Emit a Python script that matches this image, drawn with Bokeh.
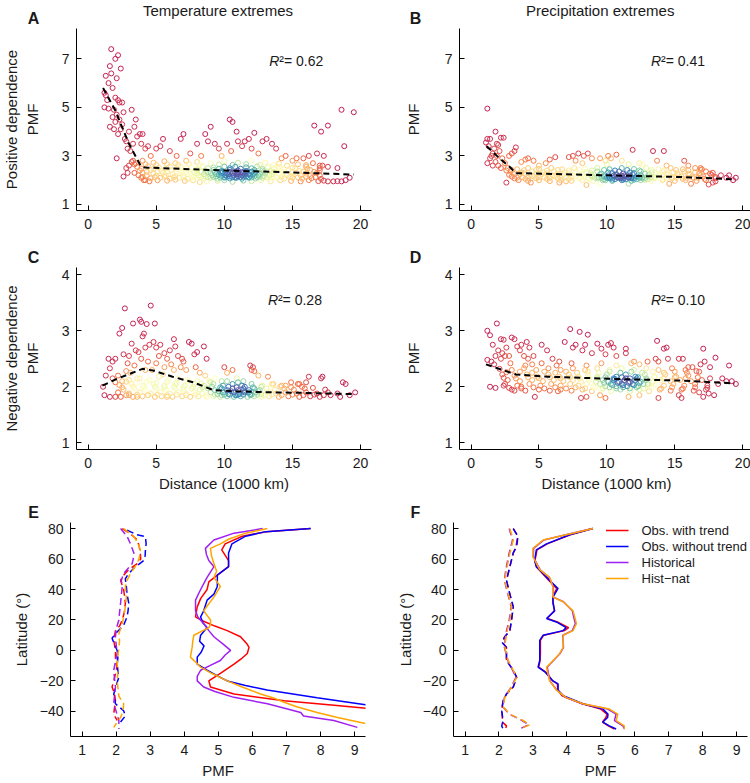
import numpy as np
from bokeh.plotting import figure
from bokeh.layouts import column, row
from bokeh.models import Range1d, Label, Legend, LegendItem, ColumnDataSource, Title
from bokeh.embed import file_html
from bokeh.resources import INLINE

FONT = "Liberation Sans"

# ---------------- Panel A: temperature, positive dependence ----------------
A_out = [(1.3,5.5),(1.2,5.6),(1.4,5.3),(1.3,6.3),(1.5,6.0),(1.7,7.4),(1.6,6.7),(1.7,6.4),(1.8,5.8),(2.0,7.0),
         (2.2,7.15),(2.1,6.2),(2.4,6.6),(2.0,5.4),(2.2,5.3),(1.2,5.0),(1.5,4.95),(1.9,4.9),(2.3,5.2),(2.5,5.2),
         (2.6,4.8),(2.1,4.7),(1.8,4.6),(1.6,4.2),(2.0,4.4),(2.3,4.5),(2.5,4.3),(1.9,4.1),(2.2,3.9),(2.4,4.1),
         (2.1,2.9),(2.6,2.15),(3.2,4.9),(3.0,4.0),(3.3,3.5),(3.5,4.5),(3.4,4.2),(2.8,3.6),(2.9,3.3),(3.1,3.2),
         (2.7,3.7),(3.6,3.8),(3.8,3.9),(4.0,3.9),(3.9,3.5),(3.3,2.8),(3.0,2.6),(2.8,2.5),(3.5,2.7),(4.2,3.3),
         (4.4,3.4),(4.6,3.0),(5.0,3.3),(5.3,3.4),(5.5,3.7),(6.0,3.2),(6.5,3.0),(6.8,3.7),(7.0,3.9),(7.5,3.1),
         (8.0,3.5),(8.3,3.0),(8.6,3.9),(8.8,3.6),(9.0,4.2),(9.3,3.5),(9.6,3.3),(9.8,3.0),(10.2,3.5),(10.4,4.5),
         (10.6,4.4),(10.9,4.0),(10.5,3.2),(11.0,3.6),(11.3,3.4),(11.5,3.6),(11.8,3.7),(12.2,3.95),(12.0,3.3),(12.5,3.1),
         (12.8,3.6),(13.1,3.7),(13.5,3.5),(13.8,3.3),(14.2,2.9),(14.5,3.0),(15.0,2.8),(15.3,2.9),(15.8,2.9),(16.2,3.0),
         (16.6,4.25),(16.8,3.1),(17.1,4.0),(17.3,3.0),(17.6,4.25),(17.0,2.6),(18.6,4.9),(18.8,3.4),(19.5,4.8),(19.2,2.1),
         (18.9,2.0),(18.0,1.95),(3.4,2.3),(3.7,2.2),(4.1,2.0),(2.9,2.3)]
A_band = [(4.2,2.0),(4.5,1.95),(5.1,2.0),(5.8,1.98),(6.4,2.02),(7.1,1.97),(7.7,2.0),(8.2,1.92),(8.7,1.95),(9.5,1.97),
          (10.0,2.0),(10.6,1.93),(11.4,1.98),(12.0,1.96),(12.7,2.0),(13.4,1.95),(14.1,2.0),(14.9,1.97),(15.6,1.95),(16.2,2.0),
          (16.9,1.96),(17.3,1.98),(17.6,1.95),(18.3,1.96),(18.6,1.95),
          (3.9,2.1),(4.6,2.08),(5.3,2.1),(6.0,2.06),(6.7,2.1),(7.3,2.05),(7.9,2.1),(8.5,2.07),(9.0,2.1),(9.5,2.06),
          (10.0,2.1),(10.4,2.07),(10.9,2.1),(11.3,2.06),(11.8,2.1),(12.3,2.07),(12.8,2.1),(13.3,2.06),(13.8,2.1),(14.4,2.07),
          (15.0,2.1),(15.7,2.06),(16.4,2.08),(17.1,2.05),
          (4.3,2.2),(5.0,2.18),(5.7,2.2),(6.4,2.16),(7.0,2.2),(7.6,2.17),(8.1,2.2),(8.6,2.16),(9.1,2.2),(9.4,2.15),
          (9.8,2.18),(10.1,2.2),(10.4,2.15),(10.7,2.19),(11.0,2.16),(11.3,2.2),(11.6,2.15),(11.9,2.19),(12.2,2.16),(12.5,2.2),
          (12.9,2.17),(13.3,2.2),(13.8,2.16),(14.3,2.2),(14.9,2.17),(15.6,2.2),(16.3,2.17),(17.0,2.2),
          (4.0,2.3),(4.8,2.27),(5.5,2.3),(6.2,2.25),(6.9,2.3),(7.5,2.26),(8.0,2.3),(8.5,2.25),(9.0,2.29),(9.4,2.25),
          (9.8,2.3),(10.2,2.26),(10.6,2.3),(11.0,2.25),(11.4,2.29),(11.8,2.25),(12.2,2.3),(12.6,2.26),(13.0,2.3),(13.5,2.25),
          (14.0,2.3),(14.6,2.26),(15.3,2.3),(16.0,2.27),(16.8,2.3),
          (3.8,2.4),(4.6,2.42),(5.4,2.38),(6.1,2.42),(6.8,2.4),(7.4,2.38),(8.0,2.42),(8.6,2.38),(9.2,2.42),(9.8,2.38),
          (10.4,2.42),(11.0,2.4),(11.6,2.38),(12.2,2.42),(12.8,2.4),(13.4,2.38),(14.0,2.42),(14.7,2.4),(15.5,2.38),(16.3,2.42),
          (3.6,2.55),(4.4,2.57),(5.2,2.52),(6.0,2.56),(6.8,2.55),(7.6,2.53),(8.4,2.57),(9.2,2.52),(10.0,2.56),(10.8,2.55),
          (11.6,2.53),(12.4,2.57),(13.2,2.54),(14.0,2.56),(15.0,2.52),(16.0,2.55),(17.0,2.5),
          (3.2,2.75),(4.0,2.8),(4.8,2.72),(5.6,2.78),(6.4,2.7),(7.2,2.8),(8.0,2.75),(9.0,2.7),(10.0,2.78),(11.0,2.72),
          (12.0,2.8),(13.0,2.72),(14.0,2.68),(15.4,2.65),(16.5,2.7),(17.2,2.6),
          (9.6,2.22),(10.0,2.13),(10.3,2.24),(10.6,2.12),(10.9,2.23),(11.2,2.13),(11.5,2.24),(11.8,2.12),(12.1,2.23),(12.4,2.13),
          (10.8,2.35),(11.3,2.33),(9.9,2.34),(12.0,2.35),
          (4.0,2.13),(4.9,2.12),(5.6,2.14),(6.3,2.12),(7.0,2.13),(7.7,2.12),(8.3,2.14),(8.8,2.12),(9.2,2.13),(9.7,2.11),
          (10.2,2.14),(10.8,2.11),(11.4,2.14),(12.0,2.11),(12.6,2.14),(13.1,2.12),(13.6,2.14),(14.2,2.12),(14.8,2.13),(15.4,2.12),
          (16.0,2.14),(16.7,2.12),
          (4.3,2.34),(5.1,2.35),(5.8,2.33),(6.5,2.35),(7.2,2.34),(7.8,2.33),(8.3,2.35),(8.8,2.33),(9.3,2.35),(9.7,2.33),
          (10.4,2.34),(11.0,2.33),(11.6,2.35),(12.3,2.33),(12.9,2.35),(13.6,2.34),(14.3,2.35),(15.0,2.33),(15.8,2.35),(16.6,2.34),
          (3.9,2.48),(4.8,2.47),(5.7,2.49),(6.5,2.47),(7.2,2.49),(8.0,2.47),(8.8,2.49),(9.6,2.47),(10.4,2.49),(11.2,2.47),
          (12.0,2.49),(12.8,2.47),(13.6,2.49),(14.4,2.47),(15.2,2.49),(16.1,2.47),(17.0,2.4),
          (3.4,2.65),(4.2,2.66),(5.0,2.63),(5.8,2.66),(6.6,2.63),(7.4,2.66),(8.2,2.63),(9.6,2.65),(10.6,2.63),(11.6,2.66),
          (12.6,2.63),(13.6,2.62),(14.6,2.6),(16.0,2.62),(17.6,2.55),(18.3,2.5)]
A_fit_x = [1.1, 2.0, 3.0, 3.9, 4.2, 10.0, 15.0, 19.5]
A_fit_y = [5.8, 4.87, 3.5, 2.55, 2.52, 2.4, 2.32, 2.23]

# ---------------- Panel B: precipitation, positive dependence ----------------
B_out = [(1.2,4.95),(1.2,3.7),(1.4,3.7),(1.1,3.55),(1.3,3.4),(1.5,3.0),(1.8,4.0),(1.9,3.5),(2.0,3.45),(1.7,3.3),
         (2.2,3.75),(2.4,3.75),(2.1,3.2),(1.6,3.1),(1.9,3.0),(2.3,2.9),(1.2,2.7),(1.6,2.6),(2.0,2.6),(2.5,2.7),
         (2.8,3.0),(3.0,3.1),(3.2,3.2),(3.3,3.35),(2.6,1.9),(3.7,2.75),(4.0,2.85),(4.2,2.9),(4.6,2.8),(4.4,1.9),
         (5.0,2.6),(5.5,2.7),(5.8,2.85),(6.2,2.95),(7.2,2.95),(7.5,3.0),(7.9,3.1),(7.7,2.8),(8.3,3.0),(8.6,3.1),
         (8.9,2.9),(8.2,2.7),(9.5,2.9),(9.9,2.8),(10.1,3.0),(10.3,2.9),(10.0,2.65),(10.7,3.05),(11.1,2.8),(11.6,2.65),
         (11.9,3.25),(12.4,2.7),(12.6,2.65),(13.4,3.2),(13.7,2.8),(14.2,3.2),(14.4,2.6),(15.7,2.8),(16.0,2.6),(16.9,2.5),
         (17.0,2.45),(17.8,2.3),(18.4,2.2),(19.0,2.2),(19.5,2.1),(19.3,2.0),(8.5,1.8),(9.5,1.85),(11.6,1.85),(14.6,1.85),
         (16.2,1.85),(17.5,1.82),(17.8,1.9),(18.0,1.95),(6.5,1.9),(7.0,1.95),(1.4,2.9),(1.8,2.75),(2.2,2.5),(2.6,2.4)]
B_band = [(3.5,2.0),(4.2,1.97),(5.0,2.0),(5.8,1.96),(6.6,2.0),(7.4,1.97),(8.2,2.0),(9.0,1.97),(9.7,2.0),(10.4,1.97),
          (11.1,2.0),(11.8,1.97),(12.5,2.0),(13.3,1.97),(14.1,2.0),(15.0,1.97),(15.8,2.0),(16.6,1.97),(17.3,2.0),
          (3.2,2.07),(4.0,2.05),(4.8,2.08),(5.6,2.05),(6.4,2.08),(7.2,2.05),(8.0,2.08),(8.7,2.05),(9.3,2.08),(9.8,2.04),
          (10.2,2.08),(10.6,2.04),(11.0,2.08),(11.4,2.04),(11.8,2.08),(12.2,2.04),(12.6,2.08),(13.0,2.04),(13.5,2.08),(14.1,2.05),
          (14.8,2.08),(15.6,2.05),(16.4,2.08),(17.2,2.05),(18.0,2.08),
          (3.0,2.15),(3.8,2.12),(4.6,2.15),(5.4,2.12),(6.2,2.15),(7.0,2.12),(7.7,2.15),(8.3,2.12),(8.9,2.15),(9.4,2.12),
          (9.8,2.16),(10.2,2.12),(10.6,2.16),(11.0,2.12),(11.4,2.16),(11.8,2.12),(12.2,2.16),(12.6,2.12),(13.0,2.16),(13.5,2.12),
          (14.1,2.15),(14.8,2.12),(15.5,2.15),(16.3,2.12),(17.1,2.15),(18.0,2.13),(18.8,2.1),
          (2.8,2.22),(3.6,2.25),(4.4,2.2),(5.2,2.24),(6.0,2.2),(6.8,2.24),(7.5,2.2),(8.2,2.24),(8.9,2.2),(9.5,2.24),
          (10.1,2.2),(10.7,2.24),(11.3,2.2),(11.9,2.24),(12.5,2.2),(13.1,2.24),(13.8,2.2),(14.5,2.24),(15.3,2.2),(16.1,2.24),
          (16.9,2.2),(17.7,2.22),
          (2.9,2.35),(3.7,2.32),(4.5,2.36),(5.3,2.32),(6.1,2.36),(6.9,2.32),(7.7,2.36),(8.5,2.32),(9.3,2.36),(10.1,2.32),
          (10.9,2.36),(11.7,2.32),(12.5,2.36),(13.3,2.32),(14.1,2.36),(14.9,2.32),(15.7,2.36),(16.5,2.32),(17.3,2.36),
          (2.7,2.5),(3.4,2.45),(4.2,2.5),(5.0,2.46),(5.9,2.5),(6.7,2.45),(7.6,2.5),(8.4,2.46),(9.3,2.5),(10.2,2.45),
          (11.1,2.5),(12.0,2.46),(12.9,2.5),(13.8,2.45),(14.7,2.5),(15.6,2.45),(16.5,2.5),
          (10.0,2.1),(10.4,2.02),(10.8,2.1),(11.2,2.02),(11.6,2.1),(12.0,2.02),(12.4,2.1),(12.8,2.02),(10.5,2.19),(11.1,2.18),
          (11.7,2.19),(9.9,2.0),(13.2,2.1),
          (3.4,2.1),(4.2,2.1),(5.0,2.11),(5.8,2.09),(6.6,2.1),(7.4,2.1),(8.1,2.11),(8.6,2.09),(9.1,2.1),(9.6,2.09),
          (10.0,2.11),(10.4,2.09),(10.8,2.12),(11.2,2.09),(11.6,2.12),(12.0,2.09),(12.4,2.12),(12.8,2.09),(13.3,2.11),(13.8,2.1),
          (14.4,2.1),(15.1,2.1),(15.9,2.09),(16.7,2.1),
          (3.1,2.28),(3.9,2.29),(4.8,2.27),(5.6,2.29),(6.4,2.27),(7.2,2.29),(8.0,2.27),(8.8,2.29),(9.6,2.27),(10.4,2.29),
          (11.2,2.27),(12.0,2.29),(12.8,2.27),(13.6,2.29),(14.4,2.27),(15.2,2.29),(16.0,2.27),(16.8,2.29),(17.6,2.27),
          (3.0,2.42),(3.9,2.41),(4.8,2.42),(5.6,2.4),(6.4,2.42),(7.2,2.4),(8.0,2.42),(8.9,2.4),(9.8,2.42),(10.6,2.4),
          (11.5,2.42),(12.4,2.4),(13.3,2.42),(14.2,2.4),(15.1,2.42),(16.0,2.4),(16.9,2.42)]
B_fit_x = [1.15, 2.0, 2.9, 3.3, 10.1, 15.5, 19.2]
B_fit_y = [3.4, 2.95, 2.52, 2.29, 2.2, 2.13, 2.04]

# ---------------- Panel C: temperature, negative dependence ----------------
C_out = [(2.3,2.95),(2.5,3.05),(2.7,3.4),(3.3,3.13),(3.8,3.2),(3.9,3.16),(4.1,2.95),(4.0,2.9),(4.3,3.12),(4.6,3.45),
         (4.9,3.13),(3.2,2.77),(3.5,2.65),(3.7,2.62),(4.2,2.7),(4.5,2.75),(4.8,2.8),(5.0,2.7),(5.3,2.75),(5.6,2.6),
         (6.0,2.65),(6.3,2.85),(6.4,2.72),(6.6,2.55),(6.9,2.5),(7.0,2.45),(7.4,2.8),(7.6,2.77),(7.8,2.58),(8.0,2.62),
         (8.5,2.72),(8.7,2.5),(1.5,2.5),(1.8,2.45),(2.0,2.5),(2.6,2.58),(2.9,2.42),(3.4,2.38),(3.9,2.5),(4.4,2.45),
         (5.2,2.55),(5.8,2.5),(6.1,2.4),(7.2,2.3),(7.9,2.35),(8.2,2.25),(8.6,2.2),(10.0,2.35),(10.2,2.25),(10.6,2.3),
         (11.9,2.38),(12.0,2.3),(12.1,2.35),(12.2,2.28),(12.5,2.2),(13.2,2.18),(14.9,2.08),(15.5,2.05),(16.0,2.08),(16.2,2.18),
         (17.1,2.15),(17.2,2.18),(18.7,2.08),(18.9,2.05),(19.6,1.9),(19.2,1.85),(18.5,1.82),(1.2,1.85),(1.6,1.82),(2.0,1.82),
         (3.0,1.85),(3.6,1.82),(4.4,1.85),(5.8,1.82),(1.1,2.0),(1.3,2.2),(1.6,2.33),(1.8,2.15),(2.2,2.2),(2.5,2.1),
         (2.8,2.28),(3.1,2.25),(3.6,2.15),(4.2,2.3),(4.7,2.3),(5.5,2.22),(6.3,2.3),(6.8,2.35),(8.9,2.1),(9.3,2.15),
         (9.8,2.1),(10.9,2.15),(11.4,2.1),(13.5,2.05),(14.2,2.02),(17.4,1.95),(17.8,1.85),(5.0,2.42),(3.0,2.55),(5.6,2.35)]
C_band = [(2.4,1.82),(3.3,1.82),(4.0,1.83),(4.9,1.82),(5.4,1.83),(6.2,1.82),(6.9,1.83),(7.5,1.82),(8.1,1.83),(8.7,1.82),
          (9.2,1.83),(9.7,1.82),(10.2,1.83),(10.7,1.82),(11.2,1.83),(11.7,1.82),(12.2,1.83),(12.7,1.82),(13.3,1.83),(14.0,1.82),
          (14.7,1.83),(15.5,1.82),(16.3,1.83),(17.0,1.82),
          (2.2,1.9),(3.0,1.88),(3.8,1.9),(4.6,1.88),(5.3,1.9),(6.0,1.88),(6.6,1.9),(7.2,1.88),(7.8,1.9),(8.4,1.88),
          (9.0,1.9),(9.5,1.87),(9.9,1.9),(10.3,1.87),(10.7,1.9),(11.1,1.87),(11.5,1.9),(11.9,1.87),(12.3,1.9),(12.7,1.87),
          (13.2,1.9),(13.8,1.88),(14.5,1.9),(15.3,1.88),(16.0,1.9),(16.8,1.88),(17.6,1.9),(18.3,1.88),
          (2.6,1.95),(3.4,1.97),(4.2,1.95),(5.0,1.97),(5.7,1.95),(6.4,1.97),(7.0,1.95),(7.6,1.97),(8.2,1.95),(8.8,1.97),
          (9.3,1.94),(9.8,1.97),(10.2,1.94),(10.6,1.97),(11.0,1.94),(11.4,1.97),(11.8,1.94),(12.2,1.97),(12.6,1.94),(13.1,1.97),
          (13.7,1.95),(14.4,1.97),(15.1,1.95),(15.9,1.97),
          (2.3,2.03),(3.2,2.05),(4.0,2.02),(4.8,2.05),(5.6,2.02),(6.4,2.05),(7.1,2.02),(7.8,2.05),(8.5,2.02),(9.2,2.05),
          (9.9,2.02),(10.6,2.05),(11.3,2.02),(12.0,2.05),(12.8,2.02),(13.6,2.05),(14.5,2.02),(15.4,2.05),
          (3.0,2.12),(3.8,2.15),(4.5,2.12),(5.2,2.18),(5.9,2.12),(6.6,2.15),(7.3,2.12),(8.0,2.1),(9.0,2.08),(10.2,2.1),
          (11.0,2.08),
          (10.0,1.86),(10.5,1.92),(11.0,1.86),(11.5,1.92),(12.0,1.86),(12.5,1.92),(10.8,1.85),(11.8,1.9),(9.6,1.92),(13.0,1.86),
          (2.8,1.85),(3.6,1.86),(4.4,1.85),(5.1,1.86),(5.8,1.85),(6.5,1.86),(7.2,1.85),(7.9,1.86),(8.6,1.85),(9.3,1.86),
          (9.8,1.85),(10.4,1.86),(10.9,1.85),(11.4,1.86),(11.9,1.85),(12.4,1.86),(12.9,1.85),(13.5,1.86),(14.2,1.85),(15.0,1.86),
          (15.8,1.85),(16.6,1.86),(17.3,1.85),
          (2.5,1.99),(3.3,2.0),(4.1,1.99),(4.9,2.0),(5.6,1.99),(6.3,2.0),(7.0,1.99),(7.7,2.0),(8.4,1.99),(9.1,2.0),
          (9.7,1.99),(10.3,2.0),(10.9,1.99),(11.5,2.0),(12.1,1.99),(12.7,2.0),(13.4,1.99),(14.1,2.0),(14.9,1.99),(15.7,2.0),
          (16.5,1.98),
          (2.0,2.08),(2.8,2.09),(3.5,2.07),(4.3,2.09),(5.0,2.07),(5.8,2.09),(6.5,2.07),(7.3,2.09),(8.3,2.06)]
C_fit_x = [1.05, 2.1, 3.05, 4.0, 4.77, 6.2, 7.7, 9.2, 10.6, 13.6, 16.0, 19.4]
C_fit_y = [2.02, 2.14, 2.23, 2.32, 2.29, 2.18, 2.08, 1.94, 1.92, 1.9, 1.89, 1.87]

# ---------------- Panel D: precipitation, negative dependence ----------------
D_out = [(1.2,3.0),(1.4,2.92),(1.9,3.13),(2.2,2.85),(2.4,2.84),(1.6,2.75),(2.0,2.65),(2.3,2.6),(2.6,2.7),(1.8,2.55),
         (2.2,2.5),(2.5,2.55),(1.2,2.48),(1.5,2.45),(2.8,2.55),(3.0,2.88),(3.2,2.85),(3.4,2.72),(3.6,2.65),(3.7,2.75),
         (4.1,2.8),(4.3,2.7),(3.9,2.55),(4.2,2.5),(4.6,2.55),(4.5,2.4),(5.2,2.75),(5.6,2.65),(6.0,2.5),(6.5,2.45),
         (6.9,2.8),(7.3,3.03),(7.5,2.7),(7.7,2.75),(8.0,2.98),(8.2,2.65),(8.4,2.75),(8.6,2.93),(8.9,2.6),(9.3,2.77),
         (9.6,2.68),(9.9,2.58),(10.1,2.75),(10.3,2.78),(10.5,2.7),(10.7,2.55),(11.4,2.68),(11.4,2.6),(12.0,2.45),(12.4,2.4),
         (13.0,2.45),(13.6,2.5),(13.7,2.82),(13.8,2.45),(14.2,2.68),(14.4,2.7),(14.5,2.5),(15.3,2.5),(15.6,2.5),(16.0,2.35),
         (16.3,2.35),(16.9,2.4),(17.1,2.68),(17.2,2.45),(18.0,2.52),(17.6,2.35),(18.5,2.15),(19.0,2.38),(19.2,2.1),(19.5,2.05),
         (18.8,2.1),(17.5,1.88),(17.1,1.82),(16.8,1.9),(17.9,1.85),(15.5,1.8),(15.3,1.85),(13.8,1.8),(12.4,1.85),(11.6,1.82),
         (9.9,1.8),(9.5,1.85),(8.5,1.82),(8.1,1.8),(4.7,1.82),(3.2,1.93),(1.4,2.0),(1.8,1.98),(2.4,2.02),(3.7,2.0),(6.4,1.92)]
D_band = [(3.0,1.95),(4.0,1.93),(5.0,1.95),(5.8,1.93),(6.6,1.95),(7.4,1.93),(8.2,1.95),(8.9,1.92),(9.6,1.95),(10.3,1.92),
          (11.0,1.95),(11.7,1.92),(12.4,1.95),(13.1,1.92),(13.9,1.95),(14.7,1.93),(15.5,1.95),(16.4,1.93),(17.3,1.95),
          (2.5,2.05),(3.4,2.02),(4.3,2.05),(5.1,2.02),(5.9,2.05),(6.6,2.02),(7.3,2.05),(7.9,2.02),(8.5,2.05),(9.0,2.01),
          (9.5,2.05),(9.9,2.01),(10.3,2.05),(10.7,2.01),(11.1,2.05),(11.5,2.01),(11.9,2.05),(12.3,2.01),(12.7,2.05),(13.1,2.01),
          (13.6,2.05),(14.2,2.02),(14.9,2.05),(15.7,2.02),(16.5,2.05),(17.4,2.02),(18.2,2.05),
          (2.7,2.12),(3.6,2.1),(4.5,2.12),(5.3,2.1),(6.1,2.12),(6.8,2.1),(7.5,2.12),(8.1,2.09),(8.7,2.12),(9.2,2.09),
          (9.7,2.12),(10.1,2.09),(10.5,2.12),(10.9,2.09),(11.3,2.12),(11.7,2.09),(12.1,2.12),(12.5,2.09),(12.9,2.12),(13.4,2.09),
          (14.0,2.12),(14.7,2.1),(15.4,2.12),(16.2,2.1),(17.0,2.12),
          (2.3,2.22),(3.2,2.2),(4.1,2.22),(4.9,2.18),(5.7,2.22),(6.5,2.18),(7.2,2.22),(7.9,2.18),(8.6,2.22),(9.3,2.18),
          (10.0,2.22),(10.7,2.18),(11.4,2.22),(12.1,2.18),(12.8,2.22),(13.5,2.18),(14.3,2.22),(15.1,2.18),(16.0,2.2),
          (2.1,2.32),(3.0,2.3),(3.9,2.33),(4.8,2.3),(5.7,2.33),(6.6,2.3),(7.5,2.33),(8.4,2.3),(9.3,2.33),(10.2,2.3),
          (11.1,2.33),(12.0,2.3),(12.9,2.33),(13.8,2.3),(14.8,2.33),(15.8,2.3),(16.6,2.28),
          (1.7,2.4),(2.9,2.42),(4.0,2.38),(5.2,2.42),(6.3,2.38),(7.4,2.42),(8.5,2.38),(9.6,2.42),(10.7,2.38),(11.8,2.42),
          (9.8,2.07),(10.4,2.03),(10.8,2.07),(11.2,2.03),(11.6,2.07),(12.0,2.03),(12.4,2.07),(10.6,2.14),(11.4,2.15),(12.2,2.15),
          (13.0,2.05),
          (2.8,1.98),(3.7,1.97),(4.6,1.99),(5.4,1.97),(6.2,1.99),(7.0,1.97),(7.7,1.99),(8.4,1.97),(9.1,1.98),(9.7,1.97),
          (10.2,1.99),(10.7,1.97),(11.2,1.99),(11.7,1.97),(12.2,1.99),(12.7,1.97),(13.3,1.99),(14.0,1.97),(14.8,1.99),(15.6,1.97),
          (16.5,1.99),(17.4,1.98),
          (2.4,2.16),(3.3,2.15),(4.2,2.17),(5.0,2.15),(5.8,2.17),(6.6,2.15),(7.3,2.17),(8.0,2.15),(8.7,2.16),(9.3,2.15),
          (9.9,2.17),(10.5,2.15),(11.1,2.17),(11.7,2.15),(12.3,2.17),(12.9,2.15),(13.5,2.17),(14.2,2.15),(15.0,2.17),(15.8,2.15),
          (16.7,2.17),(17.6,2.15),
          (2.6,2.26),(3.6,2.27),(4.5,2.25),(5.4,2.27),(6.2,2.25),(7.0,2.27),(7.8,2.25),(8.6,2.27),(9.4,2.25),(10.2,2.27),
          (11.0,2.25),(11.8,2.27),(12.6,2.25),(13.4,2.27),(14.2,2.25),(15.0,2.27),(15.9,2.25),(16.8,2.27)]
D_fit_x = [1.1, 3.3, 5.7, 10.6, 15.5, 19.4]
D_fit_y = [2.4, 2.22, 2.18, 2.14, 2.11, 2.06]

R2_labels = ["0.62", "0.41", "0.28", "0.10"]

# ---------------- Panel E: temperature, PMF by latitude ----------------
E_red_lat = [80, 78, 75, 70, 66, 59, 55, 49.5, 45, 40, 34, 28.6, 22, 20, 16, 13, 9, 4, 2, -2, -5, -9, -15, -20, -24, -28.6, -33, -36, -38.5]
E_red_pmf = [7.71, 6.4, 5.7, 5.2, 5.1, 5.3, 5.3, 4.97, 4.72, 4.67, 4.48, 4.38, 4.33, 4.48, 4.9, 5.26, 5.65, 5.85, 5.9, 5.85, 5.7, 5.46, 5.06, 4.72, 4.77, 5.46, 6.93, 8.4, 9.6]
E_blue_lat = [80, 78, 75, 70, 64, 55, 49.5, 46, 42, 37, 33, 26, 22, 18, 15, 10, 6, 3, -1, -4.4, -9, -13, -17, -20, -23, -26, -31, -35.6, -37]
E_blue_pmf = [7.71, 6.4, 5.8, 5.4, 5.3, 5.3, 4.97, 4.97, 4.97, 4.87, 4.67, 4.57, 4.48, 4.55, 4.67, 4.48, 4.45, 4.58, 4.5, 4.38, 4.38, 4.67, 5.0, 5.26, 5.8, 6.43, 7.9, 9.32, 9.8]
E_purple_lat = [80, 77, 72.5, 67, 63, 59, 55, 48, 40, 33, 26, 22, 17.6, 13, 9, 4, 0, -3, -6.6, -10, -13, -17, -20, -24, -27, -30.8, -35, -40.7, -43, -46, -50.5]
E_purple_pmf = [6.3, 5.46, 4.87, 4.62, 4.65, 4.72, 4.87, 4.67, 4.48, 4.33, 4.33, 4.4, 4.57, 4.72, 4.87, 5.15, 5.36, 5.2, 5.06, 4.75, 4.48, 4.38, 4.38, 4.57, 4.9, 5.46, 6.44, 7.42, 7.5, 8.39, 9.08]
E_orange_lat = [80, 77, 73, 70, 67, 62, 57, 52, 48, 42, 35, 30, 26, 20, 17, 15, 10, 6, 2, -4.4, -8, -11, -15, -20, -24, -28.6, -31, -34, -37, -40.7, -44, -48]
E_orange_pmf = [6.44, 5.8, 5.3, 5.06, 4.77, 4.8, 4.87, 4.95, 4.87, 5.06, 4.87, 4.7, 4.57, 4.77, 4.77, 4.72, 4.28, 4.25, 4.23, 4.18, 4.35, 4.48, 4.8, 5.26, 5.7, 6.24, 6.6, 6.93, 7.3, 7.9, 8.5, 9.32]
E_red_d_lat = [80, 76, 72.5, 68, 64, 60, 57, 53, 49, 46, 40, 35, 31, 25, 20, 16, 13, 9, 6.6, 0, -6.6, -11, -15.4, -20, -24, -28, -33, -38, -41.8, -46]
E_red_d_pmf = [2.18, 2.45, 2.62, 2.68, 2.71, 2.72, 2.62, 2.37, 2.2, 2.13, 2.22, 2.25, 2.27, 2.24, 2.18, 2.1, 1.98, 1.95, 1.93, 1.98, 1.98, 2.02, 1.98, 1.93, 1.88, 1.95, 1.98, 1.95, 1.93, 2.03]
E_blue_d_lat = [79, 76, 74.7, 70, 66, 62, 59, 54, 50, 47, 42, 37, 31, 26, 22, 16.5, 11, 8, 4, 0, -5, -9, -13, -17.6, -23, -28.6, -35, -39.6, -43, -47]
E_blue_d_pmf = [2.32, 2.6, 2.86, 2.88, 2.86, 2.85, 2.81, 2.52, 2.35, 2.27, 2.3, 2.32, 2.37, 2.35, 2.32, 2.22, 1.98, 1.88, 1.95, 2.03, 2.05, 2.03, 2.05, 2.08, 2.0, 1.93, 1.98, 2.22, 2.27, 2.13]
E_purple_d_lat = [80, 75, 70, 64, 60, 57, 50.5, 46, 42, 36, 31, 25, 20, 14, 9, 4, -2, -7, -13, -18, -24, -30, -35, -40, -46, -51.6]
E_purple_d_pmf = [2.13, 2.32, 2.42, 2.52, 2.5, 2.47, 2.22, 2.15, 2.18, 2.15, 2.13, 2.1, 2.08, 2.0, 1.98, 2.0, 2.03, 1.98, 1.93, 1.95, 1.98, 1.95, 1.93, 2.0, 2.08, 2.08]
E_orange_d_lat = [80, 74.7, 70, 66, 61, 57, 50.5, 46, 42, 35, 28.6, 22, 17.6, 11, 6, 2, -4, -9, -15, -20, -24, -30, -35, -40, -44, -48, -50.5]
E_orange_d_pmf = [2.22, 2.52, 2.65, 2.71, 2.68, 2.62, 2.42, 2.32, 2.27, 2.3, 2.27, 2.22, 2.18, 2.08, 2.1, 2.08, 2.05, 2.03, 2.05, 2.03, 2.05, 2.08, 2.22, 2.2, 2.13, 2.0, 1.93]

# ---------------- Panel F: precipitation, PMF by latitude ----------------
F_blue_lat = [80, 76, 70, 66, 59, 55, 50.5, 46, 40.7, 35, 31, 26, 21, 18.7, 15, 13, 10, 6.6, -2, -6.6, -11, -14, -20, -22, -26, -29.7, -35, -38.5, -41.8, -44, -47, -49.5, -51.6]
F_blue_pmf = [4.77, 4.08, 3.40, 3.10, 3.05, 3.10, 3.30, 3.49, 3.74, 3.59, 3.59, 3.64, 3.40, 3.69, 3.98, 3.89, 3.30, 3.20, 3.20, 3.20, 3.15, 3.35, 3.59, 3.74, 3.74, 3.89, 4.47, 5.06, 5.21, 5.2, 5.06, 5.25, 5.45]
F_red_lat = [80, 76, 70, 66, 59, 55, 50.5, 46, 40.7, 35, 31, 26, 21, 18.7, 15, 13, 10, 6.6, -2, -6.6, -11, -14, -20, -22, -26, -29.7, -35, -38.5, -41.8, -44, -47, -49.5, -51.6]
F_red_pmf = [4.77, 4.1, 3.42, 3.12, 3.06, 3.1, 3.28, 3.47, 3.7, 3.58, 3.6, 3.63, 3.42, 3.72, 4.05, 3.93, 3.32, 3.22, 3.22, 3.21, 3.17, 3.37, 3.58, 3.72, 3.73, 3.86, 4.45, 5.0, 5.18, 5.15, 5.05, 5.22, 5.4]
F_orange_lat = [80, 76, 72.5, 67, 61.5, 53, 48, 41.8, 35, 32, 26, 22, 17.6, 13, 10, 2, -2, -9, -11, -20, -26, -31, -35, -38.5, -41.8, -46, -49.5, -51.6]
F_orange_pmf = [4.77, 3.98, 3.30, 3.0, 3.0, 3.20, 3.49, 3.59, 3.59, 3.89, 4.18, 4.23, 4.28, 4.18, 3.89, 3.89, 3.79, 3.49, 3.40, 3.49, 3.69, 3.98, 4.47, 5.25, 5.50, 5.45, 5.69, 5.69]
F_purple_lat = [80, 76, 72.5, 67, 61.5, 53, 48, 41.8, 35, 32, 26, 22, 17.6, 13, 10, 2, -2, -9, -11, -20, -26, -31, -35, -38.5, -41.8, -46, -49.5, -51.6]
F_purple_pmf = [4.75, 3.97, 3.32, 3.02, 3.01, 3.21, 3.48, 3.6, 3.6, 3.9, 4.16, 4.2, 4.25, 4.16, 3.88, 3.9, 3.8, 3.5, 3.42, 3.5, 3.7, 3.97, 4.45, 5.2, 5.45, 5.4, 5.65, 5.7]
F_blue_d_lat = [80, 75, 68, 64, 55, 46, 37, 28.6, 20, 13, 9, 5.5, 2, -6.6, -13, -17.6, -24, -28.6, -33, -39.6, -46, -49.5, -51.6]
F_blue_d_pmf = [2.42, 2.56, 2.52, 2.42, 2.32, 2.22, 2.32, 2.42, 2.37, 2.32, 2.17, 2.08, 2.22, 2.22, 2.42, 2.52, 2.42, 2.22, 2.12, 2.08, 2.12, 2.08, 2.12]
F_red_d_lat = [80, 75, 68, 64, 55, 46, 37, 28.6, 20, 13, 9, 5.5, 2, -6.6, -13, -17.6, -24, -28.6, -33, -39.6, -44, -47, -49.5, -51]
F_red_d_pmf = [2.42, 2.55, 2.5, 2.42, 2.32, 2.22, 2.32, 2.42, 2.37, 2.32, 2.17, 2.1, 2.22, 2.22, 2.42, 2.52, 2.42, 2.22, 2.12, 2.08, 2.1, 2.1, 2.22, 2.2]
F_orange_d_lat = [80, 72.5, 64, 53, 46, 37, 28.6, 20, 11, 2, -6.6, -13, -17.6, -24, -31, -37, -41.8, -46, -48.8, -51.6]
F_orange_d_pmf = [2.32, 2.42, 2.32, 2.22, 2.17, 2.27, 2.37, 2.32, 2.22, 2.17, 2.27, 2.42, 2.52, 2.37, 2.17, 2.12, 2.32, 2.71, 2.91, 2.61]
F_purple_d_lat = [80, 72.5, 64, 53, 46, 37, 28.6, 20, 11, 2, -6.6, -13, -17.6, -24, -31, -37, -41.8, -46, -48.8, -51.6]
F_purple_d_pmf = [2.3, 2.4, 2.3, 2.2, 2.16, 2.26, 2.36, 2.3, 2.2, 2.16, 2.26, 2.4, 2.5, 2.36, 2.16, 2.11, 2.3, 2.68, 2.88, 2.6]

LEGEND_LABELS = ["Obs. with trend", "Obs. without trend", "Historical", "Hist\u2212nat"]
LINE_COLORS = ["#FF0000", "#0000FF", "#A020F0", "#FFA500"]

# ---------------- helpers ----------------
SPECTRAL = ['#c41e55', '#d53e4f', '#f46d43', '#fdae61', '#fee08b', '#ffffbf',
            '#e6f598', '#abdda4', '#66c2a5', '#3288bd', '#5e4fa2']
STOPS = np.array([[int(c[i:i + 2], 16) for i in (1, 3, 5)] for c in SPECTRAL], dtype=float)


def ramp(t):
    pos = np.clip(t, 0, 1) * (len(STOPS) - 1)
    i = np.clip(np.floor(pos).astype(int), 0, len(STOPS) - 2)
    f = (pos - i)[:, None]
    rgb = STOPS[i] * (1 - f) + STOPS[i + 1] * f
    return ["#%02x%02x%02x" % tuple(int(round(v)) for v in c) for c in rgb]


def density_source(pts, sx, sy, h=14.0, power=2.0):
    xs = np.array([p[0] for p in pts]); ys = np.array([p[1] for p in pts])
    X = xs * sx; Y = ys * sy
    d = np.exp(-((X[:, None] - X[None, :]) ** 2 + (Y[:, None] - Y[None, :]) ** 2) / (2 * h * h)).sum(1)
    t = ((d - d.min()) / (d.max() - d.min())) ** power
    order = np.argsort(t)
    return ColumnDataSource(dict(x=xs[order], y=ys[order], c=ramp(t[order])))


def make_fig(fw, fh, bl, br, bt, bb, xr, yr, xt, yt, ylab_standoff=18):
    p = figure(frame_width=fw, frame_height=fh, x_range=Range1d(*xr), y_range=Range1d(*yr),
               min_border_left=bl, min_border_right=br, min_border_top=bt, min_border_bottom=bb,
               output_backend="svg", toolbar_location=None)
    p.outline_line_color = None
    p.xgrid.visible = False
    p.ygrid.visible = False
    p.xaxis.ticker = xt
    p.yaxis.ticker = yt
    for ax in (p.xaxis[0], p.yaxis[0]):
        ax.axis_line_color = "black"
        ax.axis_line_width = 1
        ax.major_tick_line_color = "black"
        ax.major_tick_in = 5
        ax.major_tick_out = 0
        ax.minor_tick_line_color = None
        ax.major_label_text_font = FONT
        ax.major_label_text_font_size = "14px"
        ax.major_label_text_color = "#1a1a1a"
        ax.axis_label_text_font = FONT
        ax.axis_label_text_font_size = "15px"
        ax.axis_label_text_font_style = "normal"
        ax.axis_label_text_color = "#1a1a1a"
    p.xaxis[0].major_label_standoff = 8
    p.yaxis[0].major_label_standoff = 7
    p.xaxis[0].axis_label_standoff = 4
    p.yaxis[0].axis_label_standoff = ylab_standoff
    return p


def add_label(p, x, y, text, size="15px", style="normal", align="center", xoff=0):
    p.add_layout(Label(x=x, y=y, text=text, text_font=FONT, text_font_size=size, text_font_style=style,
                       text_align=align, text_baseline="middle", x_offset=xoff, text_color="#1a1a1a"))


def add_r2(p, x, y, val):
    add_label(p, x, y, "R", size="14px", style="italic", align="left")
    add_label(p, x, y, "\u00b2= " + val, size="14px", align="left", xoff=10)


def side_title(p, text):
    p.add_layout(Title(text=text, align="center", text_font=FONT, text_font_size="15px",
                       text_font_style="normal", text_color="#1a1a1a", standoff=1), "left")


def strip(h, texts):
    s = figure(width=750, height=h, x_range=Range1d(0, 750), y_range=Range1d(h, 0),
               min_border=0, x_axis_type=None, y_axis_type=None,
               output_backend="svg", toolbar_location=None)
    s.outline_line_color = None
    for (x, y, t, size, style) in texts:
        add_label(s, x, y, t, size=size, style=style)
    return s


XR = (-0.85, 20.8)
YR_POS = (0.75, 8.25)
YR_NEG = (0.88, 4.13)
XR_E = (0.66, 9.32)
YR_E = (-56.5, 84)

LW, RW = 295, 294
H1, H2, H3 = 182, 182, 214
XT = [0, 5, 10, 15, 20]

# header strips (titles and panel letters)
s1 = strip(28, [(217.5, 10, "Temperature extremes", "15px", "normal"),
                (599.7, 10, "Precipitation extremes", "15px", "normal"),
                (33, 18, "A", "16px", "bold"), (415, 18, "B", "16px", "bold")])
s2 = strip(21, [(33, 11, "C", "16px", "bold"), (415, 11, "D", "16px", "bold")])
s3 = strip(22, [(33, 12, "E", "16px", "bold"), (415, 12, "F", "16px", "bold")])

# A
pA = make_fig(LW, H1, 70, 10, 0, 36, XR, YR_POS, XT, [1, 3, 5, 7])
pA.yaxis.axis_label = "PMF"
side_title(pA, "Positive dependence")
pA.scatter("x", "y", source=density_source(A_out + A_band, LW / 21.65, H1 / 7.5), size=5,
           marker="circle", fill_color=None, line_color="c", line_width=1)
pA.line(A_fit_x, A_fit_y, line_color="black", line_width=2, line_dash="6 4")
add_r2(pA, 13.3, 6.93, R2_labels[0])

# B
pB = make_fig(RW, H1, 78, 3, 0, 36, XR, YR_POS, XT, [1, 3, 5, 7], ylab_standoff=20)
pB.yaxis.axis_label = "PMF"
pB.scatter("x", "y", source=density_source(B_out + B_band, RW / 21.65, H1 / 7.5), size=5,
           marker="circle", fill_color=None, line_color="c", line_width=1)
pB.line(B_fit_x, B_fit_y, line_color="black", line_width=2, line_dash="6 4")
add_r2(pB, 13.26, 6.93, R2_labels[1])

# C
pC = make_fig(LW, H2, 70, 10, 0, 51, XR, YR_NEG, XT, [1, 2, 3, 4])
pC.yaxis.axis_label = "PMF"
pC.xaxis.axis_label = "Distance (1000 km)"
side_title(pC, "Negative dependence")
pC.scatter("x", "y", source=density_source(C_out + C_band, LW / 21.65, H2 / 3.25), size=5,
           marker="circle", fill_color=None, line_color="c", line_width=1)
pC.line(C_fit_x, C_fit_y, line_color="black", line_width=2, line_dash="6 4")
add_r2(pC, 13.2, 3.55, R2_labels[2])

# D
pD = make_fig(RW, H2, 78, 3, 0, 51, XR, YR_NEG, XT, [1, 2, 3, 4], ylab_standoff=20)
pD.yaxis.axis_label = "PMF"
pD.xaxis.axis_label = "Distance (1000 km)"
pD.scatter("x", "y", source=density_source(D_out + D_band, RW / 21.65, H2 / 3.25), size=5,
           marker="circle", fill_color=None, line_color="c", line_width=1)
pD.line(D_fit_x, D_fit_y, line_color="black", line_width=2, line_dash="6 4")
add_r2(pD, 13.26, 3.55, R2_labels[3])

# E
pE = make_fig(LW, H3, 70, 10, 0, 47, XR_E, YR_E, list(range(1, 10)), [-40, -20, 0, 20, 40, 60, 80], ylab_standoff=7)
pE.yaxis.axis_label = "Latitude (\u00b0)"
pE.xaxis.axis_label = "PMF"
E_solid = [(E_red_pmf, E_red_lat), (E_blue_pmf, E_blue_lat), (E_purple_pmf, E_purple_lat), (E_orange_pmf, E_orange_lat)]
E_dash = [(E_red_d_pmf, E_red_d_lat), (E_blue_d_pmf, E_blue_d_lat), (E_purple_d_pmf, E_purple_d_lat), (E_orange_d_pmf, E_orange_d_lat)]
for (xs, ys), col in zip(E_dash, LINE_COLORS):
    pE.line(xs, ys, line_color=col, line_width=1.5, line_dash="7 4")
for (xs, ys), col in zip(E_solid, LINE_COLORS):
    pE.line(xs, ys, line_color=col, line_width=1.5)

# F
pF = make_fig(RW, H3, 78, 3, 0, 47, XR_E, YR_E, list(range(1, 10)), [-40, -20, 0, 20, 40, 60, 80], ylab_standoff=6)
pF.yaxis.axis_label = "Latitude (\u00b0)"
pF.xaxis.axis_label = "PMF"
F_solid = [(F_red_pmf, F_red_lat), (F_blue_pmf, F_blue_lat), (F_purple_pmf, F_purple_lat), (F_orange_pmf, F_orange_lat)]
F_dash = [(F_red_d_pmf, F_red_d_lat), (F_blue_d_pmf, F_blue_d_lat), (F_purple_d_pmf, F_purple_d_lat), (F_orange_d_pmf, F_orange_d_lat)]
for (xs, ys), col in zip(F_dash, LINE_COLORS):
    pF.line(xs, ys, line_color=col, line_width=1.5, line_dash="7 4")
items = []
for (xs, ys), col, lab in zip(F_solid, LINE_COLORS, LEGEND_LABELS):
    r = pF.line(xs, ys, line_color=col, line_width=1.5)
    items.append(LegendItem(label=lab, renderers=[r]))
leg = Legend(items=items, location="top_right", margin=0, padding=5, spacing=0,
             glyph_width=23, glyph_height=16, label_height=16, label_standoff=13,
             label_text_font=FONT, label_text_font_size="13px", label_text_color="#1a1a1a",
             background_fill_alpha=0, border_line_color=None)
pF.add_layout(leg)

layout = column(s1, row(pA, pB), s2, row(pC, pD), s3, row(pE, pF))
open("out.html", "w").write(file_html(layout, INLINE))
